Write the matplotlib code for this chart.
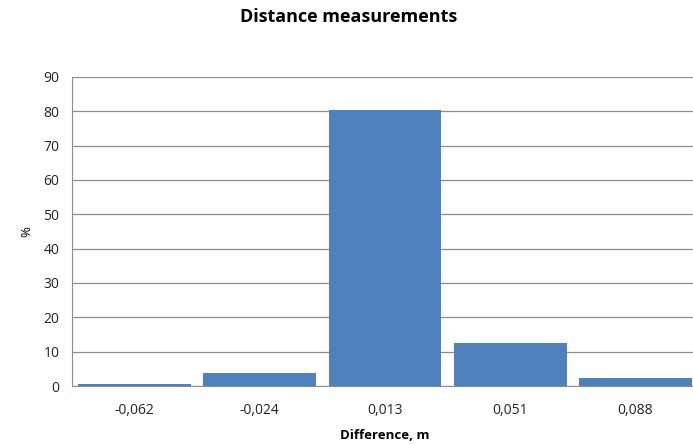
import matplotlib.pyplot as plt

# histogram of distance differences
categories = ['-0,062', '-0,024', '0,013', '0,051', '0,088']
percent = [0.6, 3.9, 80.5, 12.5, 2.2]
y_ticks = [0, 10, 20, 30, 40, 50, 60, 70, 80, 90]

plt.rcParams['font.family'] = ['Open Sans', 'DejaVu Sans']

fig = plt.figure(figsize=(6.93, 4.45), dpi=100)
ax = fig.add_axes([72 / 693, 1 - 386 / 445, 626 / 693, 309 / 445])

x = range(len(categories))
ax.bar(x, percent, width=0.9, color='#4F81BD', zorder=3)

ax.set_xlim(-0.5, len(categories) - 0.5)
ax.set_ylim(0, 90)
ax.set_yticks(y_ticks)
ax.set_xticks(list(x))
ax.set_xticklabels(categories)
ax.tick_params(axis='both', length=0, labelsize=10, colors='#222222')
ax.tick_params(axis='x', pad=12)
ax.tick_params(axis='y', pad=9)

ax.grid(axis='y', color='#8c8c8c', linewidth=0.9, zorder=0)
for side in ['top', 'right']:
    ax.spines[side].set_visible(False)
ax.spines['left'].set_color('#8c8c8c')
ax.spines['bottom'].set_color('#8c8c8c')

ax.set_xlabel('Difference, m', fontsize=9.5, fontweight='bold', labelpad=8)
ax.set_ylabel('%', fontsize=9.5, labelpad=7)
fig.text(0.503, 0.962, 'Distance measurements', ha='center', va='center',
         fontsize=13, fontweight='bold')

fig.savefig('out.png', dpi=100)
